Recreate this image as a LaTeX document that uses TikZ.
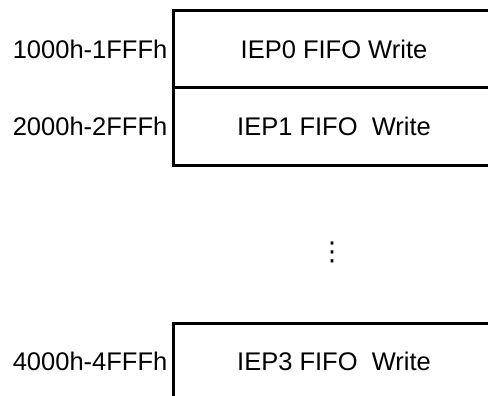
\documentclass[tikz,border=0pt]{standalone}
\usepackage{fontspec}
\setmainfont{Liberation Sans}
\newfontfamily\dotsfont{DejaVu Sans}
\usetikzlibrary{positioning}

\begin{document}
\begin{tikzpicture}[
    x=1pt, y=-1pt,
    font=\fontsize{25.5}{30}\selectfont,
    fifo/.style={rectangle, draw=black, line width=3pt, outer sep=0pt, minimum width=322pt, minimum height=77pt, text height=18.3pt, text depth=0pt},
    addr/.style={inner sep=4pt, text height=18.3pt, text depth=0pt}
]
\clip (0,0) rectangle (488,396);

\node (iep0) [fifo, anchor=north west] at (173,11) {IEP0 FIFO Write};
\node (iep1) [fifo, below=0pt of iep0] {IEP1 FIFO\ \ Write};
\node (iep3) [fifo, anchor=north west] at (173,323) {IEP3 FIFO\ \ Write};

\node (addr0) [addr, left=1.5pt of iep0] {1000h-1FFFh};
\node (addr1) [addr, left=1.5pt of iep1] {2000h-2FFFh};
\node (addr3) [addr, left=1.5pt of iep3] {4000h-4FFFh};

\node (more) [font=\dotsfont\fontsize{26}{30}\selectfont] at (332,252) {⋮};

\end{tikzpicture}
\end{document}
